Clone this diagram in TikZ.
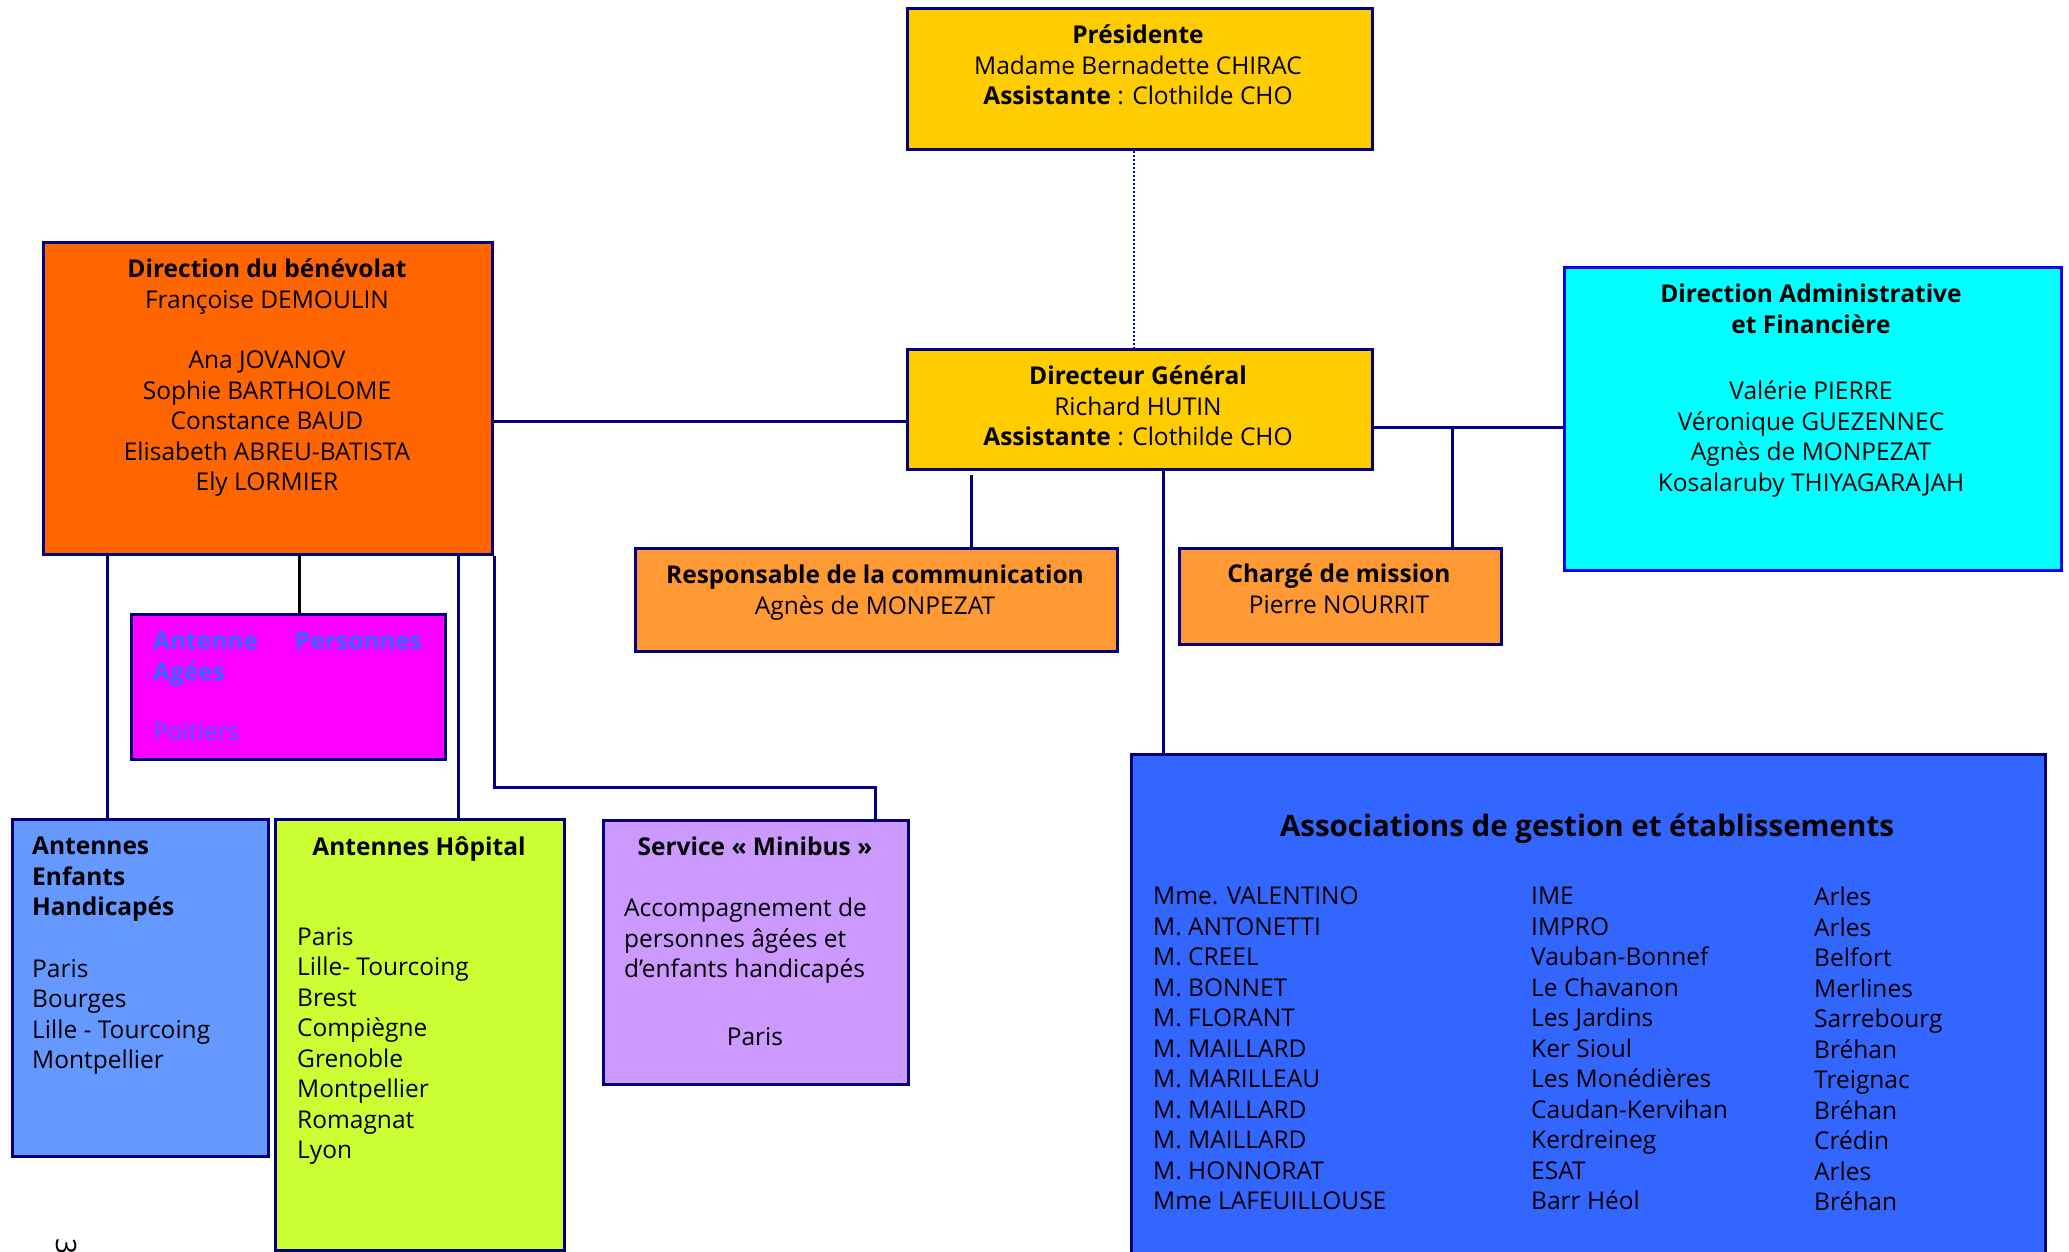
\documentclass[tikz,border=0pt]{standalone}
\usepackage{fontspec}
\setmainfont{Open Sans}
\usetikzlibrary{positioning}
\definecolor{navy}{HTML}{000080}
\definecolor{gold}{HTML}{FFCC00}
\definecolor{orangeDB}{HTML}{FF6600}
\definecolor{orangeLt}{HTML}{FF9933}
\definecolor{cyanDAF}{HTML}{00FFFF}
\definecolor{magentaPA}{HTML}{FF00FF}
\definecolor{bluePA}{HTML}{3366FF}
\definecolor{blueEH}{HTML}{6699FF}
\definecolor{limeAH}{HTML}{CCFF33}
\definecolor{lilacMB}{HTML}{CC99FF}
\definecolor{blueAG}{HTML}{3366FF}
\begin{document}
\begin{tikzpicture}[
x=1pt, y=-1pt,
every node/.style={font=\fontsize{24.5}{30.5}\selectfont, inner sep=0pt}
]

\tikzstyle{b} = [draw=navy, line width=3pt, shape=rectangle, anchor=north west]
\tikzstyle{t} = [anchor=north, align=center]
\tikzstyle{tl} = [anchor=north west, align=left]
\tikzstyle{l} = [draw=navy, line width=3pt]

\useasboundingbox (0,0) rectangle (2069,1251);

% boxes
\node[b, fill=gold, minimum width=465, minimum height=141] (pres) at (906,7) {};
\node[b, fill=gold, minimum width=465, minimum height=120] (dg) at (906,348) {};
\node[b, fill=orangeDB, minimum width=449, minimum height=312] (db) at (42,241) {};
\node[b, fill=cyanDAF, draw=blue, minimum width=497, minimum height=303] (daf) at (1563,266) {};
\node[b, fill=orangeLt, minimum width=482, minimum height=103] (com) at (634,547) {};
\node[b, fill=orangeLt, minimum width=322, minimum height=96] (cm) at (1178,547) {};
\node[b, fill=magentaPA, minimum width=314, minimum height=145] (pa) at (130,613) {};
\node[b, fill=blueEH, minimum width=256, minimum height=337] (eh) at (11,818) {};
\node[b, fill=limeAH, minimum width=289, minimum height=431] (ah) at (274,818) {};
\node[b, fill=lilacMB, minimum width=305, minimum height=264] (mb) at (602,819) {};
\node[b, fill=blueAG, minimum width=914, minimum height=540] (ag) at (1130,753) {};

% texts
\node[t] (pres-txt) at (1138,25) {\textbf{Présidente}\\Madame Bernadette CHIRAC\\\textbf{Assistante} : Clothilde CHO};
\node[t] (dg-txt) at (1138,366) {\textbf{Directeur Général}\\Richard HUTIN\\\textbf{Assistante} : Clothilde CHO};
\node[t] (db-txt) at (267,259) {\textbf{Direction du bénévolat}\\Françoise DEMOULIN\\[30pt]Ana JOVANOV\\Sophie BARTHOLOME\\Constance BAUD\\Elisabeth ABREU-BATISTA\\Ely LORMIER};
\node[t] (daf-txt) at (1811,284) {\textbf{Direction Administrative}\\\textbf{et Financière}\\[36pt]Valérie PIERRE\\Véronique GUEZENNEC\\Agnès de MONPEZAT\\Kosalaruby THIYAGARAJAH};
\node[t] (com-txt) at (875,565) {\textbf{Responsable de la communication}\\Agnès de MONPEZAT};
\node[t] (cm-txt) at (1339,564) {\textbf{Chargé de mission}\\Pierre NOURRIT};
\node[tl, text width=269, text=bluePA] (pa-txt) at (153,632) {\textbf{Antenne\hfill Personnes}\\\textbf{Agées}\\[30pt]Poitiers};
\node[tl] (eh-txt) at (32,837) {\textbf{Antennes}\\\textbf{Enfants}\\\textbf{Handicapés}\\[31pt]Paris\\Bourges\\Lille - Tourcoing\\Montpellier};
\node[t] (ah-title) at (419,837) {\textbf{Antennes Hôpital}};
\node[tl] (ah-txt) at (297,927) {Paris\\Lille- Tourcoing\\Brest\\Compiègne\\Grenoble\\Montpellier\\Romagnat\\Lyon};
\node[t] (mb-title) at (755,837) {\textbf{Service « Minibus »}};
\node[tl] (mb-txt) at (624,898) {Accompagnement de\\personnes âgées et\\d’enfants handicapés};
\node[t] (mb-city) at (755,1027) {Paris};
\node[t, font=\fontsize{29.5}{34}\selectfont] (ag-title) at (1587,814) {\textbf{Associations de gestion et établissements}};
\node[tl] (ag-names) at (1153,887) {Mme. VALENTINO\\M. ANTONETTI\\M. CREEL\\M. BONNET\\M. FLORANT\\M. MAILLARD\\M. MARILLEAU\\M. MAILLARD\\M. MAILLARD\\M. HONNORAT\\Mme LAFEUILLOUSE};
\node[tl] (ag-etab) at (1531,887) {IME\\IMPRO\\Vauban-Bonnef\\Le Chavanon\\Les Jardins\\Ker Sioul\\Les Monédières\\Caudan-Kervihan\\Kerdreineg\\ESAT\\Barr Héol};
\node[tl] (ag-city) at (1814,887) {Arles\\Arles\\Belfort\\Merlines\\Sarrebourg\\Bréhan\\Treignac\\Bréhan\\Crédin\\Arles\\Bréhan};
\node[rotate=-90, font=\fontsize{28}{32}\selectfont] (page) at (67,1246) {3};

% connectors
\coordinate (com-top) at (971,475);
\draw[blue, dotted, line width=2pt] ([xshift=-6pt]pres.south) -- ([xshift=-6pt]dg.north);
\draw[l] (db.east |- 0,421) -- (dg.west |- 0,421);
\draw[l] (dg.east |- 0,427) -- (daf.west |- 0,427);
\draw[l] (cm.north -| 1452,0) -- (1452,427);
\draw[l] (com-top) -- (com.north -| com-top);
\draw[l] (dg.south -| 1163,0) -- (ag.north -| 1163,0);
\draw[l] (db.south -| 107,0) -- (eh.north -| 107,0);
\draw[black, line width=3pt] (db.south -| 299,0) -- (pa.north -| 299,0);
\draw[l] (db.south -| 458,0) -- (ah.north -| 458,0);
\draw[l] (db.south east) |- (875,787) -- (mb.north -| 875,0);
\end{tikzpicture}
\end{document}
